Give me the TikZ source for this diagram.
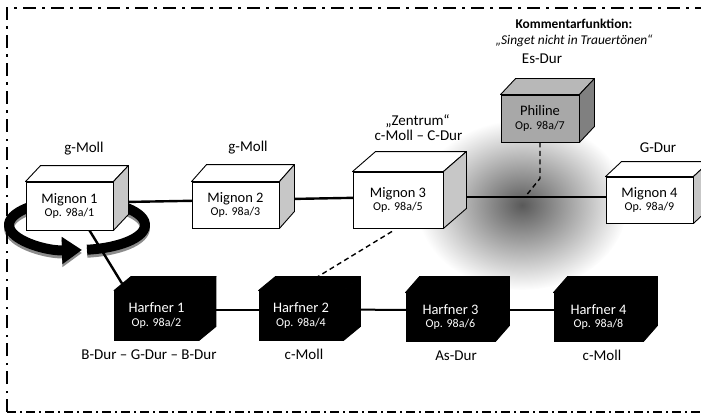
\documentclass[tikz,border=0pt]{standalone}
\usepackage{fontspec}
\setmainfont{Carlito}
\usetikzlibrary{arrows.meta,fadings}
\pgfdeclarelayer{haze}
\pgfdeclarelayer{wires}
\pgfsetlayers{haze,wires,main}
\tikzfading[name=blobfade, inner color=transparent!35, outer color=transparent!100]

% cube: name, centre, width, height, depth x, depth y, kind, text
\newcommand\boxcube[8]{%
  \node[#7 front, minimum width=#3, minimum height=#4] (#1) at #2 {#8};
  \filldraw[#7 top] (#1.north west) -- ++(#5,-#6) -- ([shift={(#5,-#6)}]#1.north east) -- (#1.north east) -- cycle;
  \filldraw[#7 side] (#1.north east) -- ++(#5,-#6) -- ([shift={(#5,-#6)}]#1.south east) -- (#1.south east) -- cycle;
}
\newcommand\twolines[2]{#1\\{\fontsize{12}{13.4}\selectfont #2}}

\tikzset{
  cubetext/.style={inner sep=0pt, align=center, font=\fontsize{14.5}{13.4}\selectfont},
  mig front/.style={cubetext, draw=black, fill=white, line width=0.9pt},
  mig top/.style={draw=black, fill=white, line width=0.9pt, line join=round},
  mig side/.style={draw=black, fill=black!22, line width=0.9pt, line join=round},
  phil front/.style={cubetext, draw=black, fill=black!34, line width=0.9pt},
  phil top/.style={draw=black, fill=black!28, line width=0.9pt, line join=round},
  phil side/.style={draw=black, fill=black!50, line width=0.9pt, line join=round},
  harf front/.style={cubetext, draw=black, fill=black, text=white, line width=0.9pt},
  harf top/.style={draw=black, fill=black, line width=0.9pt, line join=round},
  harf side/.style={draw=black, fill=black, line width=0.9pt, line join=round},
  lbl/.style={inner sep=0pt, anchor=base, font=\fontsize{15}{17}\selectfont},
  wire/.style={line width=2.4pt},
  thinwire/.style={line width=2pt},
  dashwire/.style={line width=1.4pt, dash pattern=on 5pt off 3.5pt},
  ringband/.style={line width=10pt, -{Triangle[length=20pt,width=26pt]}},
  frameline/.style={line width=2.2pt, dash pattern=on 13pt off 6pt on 2.5pt off 6.5pt},
  framebottom/.style={line width=1.3pt, dash pattern=on 9pt off 4pt on 2pt off 4pt}
}

\begin{document}
\begin{tikzpicture}[x=1pt, y=-1pt]
\useasboundingbox (0,0) rectangle (701,417);

% outer dash-dot frame
\draw[frameline] (7,412) -- (7,8) -- (705,8);
\draw[framebottom] (7,412) -- (705,412);

% upper row: Mignon songs and Philine
\boxcube{m1}{(69.5,206)}{87pt}{48pt}{15}{16}{mig}{\twolines{Mignon 1}{Op. 98a/1}}
\boxcube{m2}{(235.5,205)}{87pt}{46pt}{15}{17}{mig}{\twolines{Mignon 2}{Op. 98a/3}}
\boxcube{m3}{(398,200)}{90pt}{56pt}{23}{20}{mig}{\twolines{Mignon 3}{Op. 98a/5}}
\boxcube{m4}{(649.5,200)}{87pt}{46pt}{16}{15}{mig}{\twolines{Mignon 4}{Op. 98a/9}}
\boxcube{ph}{(540,118.5)}{78pt}{47pt}{15}{16}{phil}{\twolines{Philine}{Op. 98a/7}}

% lower row: Harfner songs
\boxcube{h1}{(156.5,315.5)}{84pt}{49pt}{17}{14}{harf}{\twolines{Harfner 1}{Op. 98a/2}}
\boxcube{h2}{(301,315.5)}{84pt}{49pt}{17}{14}{harf}{\twolines{Harfner 2}{Op. 98a/4}}
\boxcube{h3}{(450.5,317)}{89pt}{48pt}{14}{16}{harf}{\twolines{Harfner 3}{Op. 98a/6}}
\boxcube{h4}{(598.5,317)}{89pt}{48pt}{14}{16}{harf}{\twolines{Harfner 4}{Op. 98a/8}}

% key labels
\node[lbl] (k1) at (84,152) {g-Moll};
\node[lbl] (k2) at (248,151) {g-Moll};
\node[lbl] (k3a) at (417.5,125) {„Zentrum“};
\node[lbl] (k3b) at (418.5,140) {c-Moll – C-Dur};
\node[lbl] (k4) at (658,152) {G-Dur};
\node[lbl] (kp) at (542,64) {Es-Dur};
\node[lbl] (kh1) at (149,359) {B-Dur – G-Dur – B-Dur};
\node[lbl] (kh2) at (304,359) {c-Moll};
\node[lbl] (kh3) at (456,360) {As-Dur};
\node[lbl] (kh4) at (602,360) {c-Moll};

% comment heading
\node[lbl, font=\fontsize{13.4}{15}\selectfont\bfseries] (com) at (574,28.5) {Kommentarfunktion:};
\node[lbl, font=\fontsize{13.4}{15}\selectfont\itshape] (quote) at (574,44.5) {„Singet nicht in Trauertönen“};

% soft shadow around the junction
\begin{pgfonlayer}{haze}
\fill[black, path fading=blobfade] (522,205) ellipse [x radius=105, y radius=85];
\end{pgfonlayer}

\coordinate (jn) at (525,197);
\coordinate (ringc) at (77,225);
\coordinate (ringd) at (77,228);

\begin{pgfonlayer}{wires}
% circular arrow round Mignon 1
\draw[ringband, black!45] ([shift={(81.5:68 and 25)}]ringd) arc[start angle=81.5, end angle=-274.2, x radius=68, y radius=25];
\draw[ringband, black] ([shift={(81.5:68 and 25)}]ringc) arc[start angle=81.5, end angle=-274.2, x radius=68, y radius=25];
% connectors
\draw[wire] ([yshift=3pt]m1.center) -- ([yshift=5pt]m2.center);
\draw[wire] ([yshift=5pt]m2.center) -- ([yshift=3pt]m3.center);
\draw[wire] ([yshift=3pt]m3.center) -- (jn) -- ([yshift=3pt]m4.center);
\draw[wire] ([xshift=20pt]m1.south) -- ([shift={(8,-7)}]h1.north west);
\draw[thinwire] ([yshift=6pt]h1.center) -- ([yshift=6pt]h2.center);
\draw[thinwire] ([yshift=6pt]h2.center) -- ([yshift=7pt]h3.center);
\draw[thinwire] ([yshift=7pt]h3.center) -- ([yshift=7pt]h4.center);
\draw[dashwire] (ph.south) -- ++(0,36) -- (jn);
\draw[dashwire] ([shift={(-6,3)}]m3.south) -- ([shift={(17,-14)}]h2.north);
\end{pgfonlayer}
\end{tikzpicture}
\end{document}
